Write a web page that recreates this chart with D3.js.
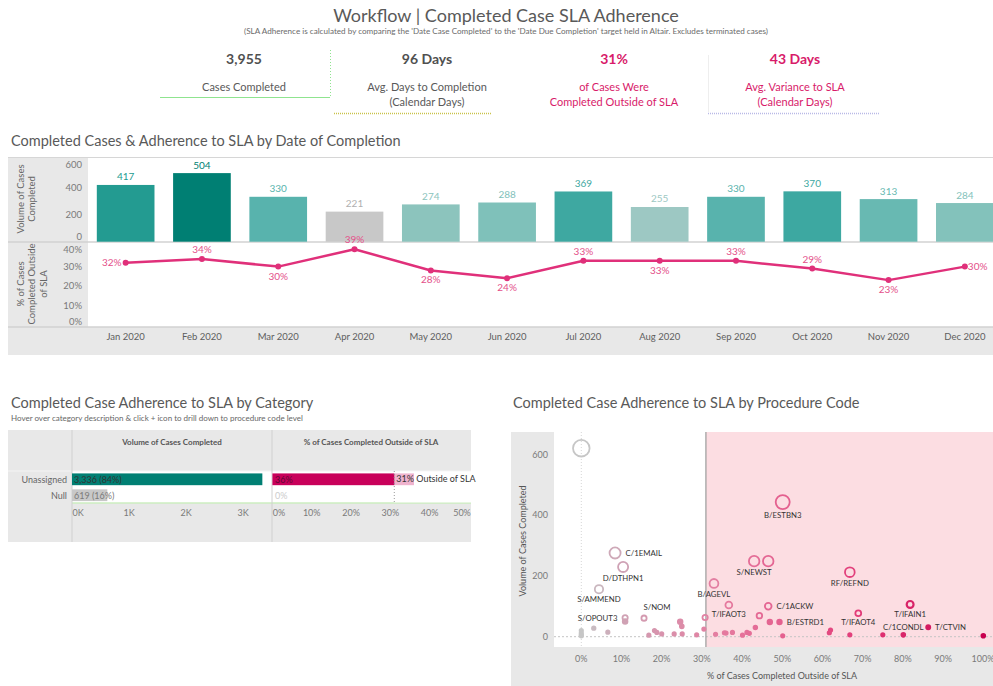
<!DOCTYPE html>
<html><head><meta charset="utf-8">
<script src="https://cdn.jsdelivr.net/npm/d3@7/dist/d3.min.js"></script>
<style>
body{margin:0;background:#fff;}
svg{display:block;font-family:Lato,'Open Sans',sans-serif;}
</style>
</head><body>
<svg id="c" width="993" height="686"></svg>
<script>
// ---------------- DATA ----------------
const titleText = "Workflow | Completed Case SLA Adherence";
const subtitleText = "(SLA Adherence is calculated by comparing the 'Date Case Completed' to the 'Date Due Completion' target held in Altair. Excludes terminated cases)";
const kpiValues = ["3,955", "96 Days", "31%", "43 Days"];
const kpiLabels = [["Cases Completed"], ["Avg. Days to Completion", "(Calendar Days)"], ["of Cases Were", "Completed Outside of SLA"], ["Avg. Variance to SLA", "(Calendar Days)"]];

const months = ["Jan 2020","Feb 2020","Mar 2020","Apr 2020","May 2020","Jun 2020","Jul 2020","Aug 2020","Sep 2020","Oct 2020","Nov 2020","Dec 2020"];
const monthVolumes = [417, 504, 330, 221, 274, 288, 369, 255, 330, 370, 313, 284];
const monthPctOutside = [32, 34, 30, 39, 28, 24, 33, 33, 33, 29, 23, 30];
const volTicks = [0, 200, 400, 600];
const pctTicks = [0, 10, 20, 30, 40];

const categories = ["Unassigned", "Null"];
const catVolumes = [3336, 619];
const catShare = [84, 16];
const catPctOutside = [36, 0];
const overallPctOutside = 31;
const catVolTicks = [0, 1000, 2000, 3000];
const catPctTicks = [0, 10, 20, 30, 40, 50];

const procPct = [0, 0, 0, 0, 0, 3.1, 6.6, 4.4, 8.4, 10.4, 10.9, 10.9, 15.6, 16.8, 18.2, 18.8, 20.0, 23.1, 24.6, 25.0, 25.1, 28.7, 30.5, 30.8, 33.0, 33.4, 35.6, 36.0, 36.7, 37.6, 40.1, 41.2, 41.8, 43.3, 44.3, 43.0, 46.5, 46.5, 46.9, 49.3, 50.1, 50.1, 61.7, 62.0, 66.8, 66.8, 68.9, 75.0, 80.1, 81.8, 86.3, 100];
const procVolumes = [619, 20, 12, 6, 3, 28, 15, 156, 275, 229, 62, 50, 61, 5, 20, 14, 9, 9, 49, 34, 9, 6, 25, 63, 175, 8, 13, 12, 104, 14, 5, 14, 11, 30, 69, 248, 248, 100, 48, 48, 442, 3, 13, 22, 212, 6, 77, 6, 6, 106, 31, 3];
const procCodes = ["", "", "", "", "", "", "", "S/AMMEND", "C/1EMAIL", "D/DTHPN1", "S/OPOUT3", "", "S/NOM", "", "", "", "", "", "", "", "", "", "", "", "B/AGEVL", "", "", "", "T/IFAOT3", "", "", "", "", "", "", "S/NEWST", "", "C/1ACKW", "", "B/ESTRD1", "B/ESTBN3", "", "", "", "RF/REFND", "", "T/IFAOT4", "", "C/1CONDL", "T/IFAIN1", "T/CTVIN", ""];
const scatterYTicks = [0, 200, 400, 600];
const scatterXTicks = [0, 10, 20, 30, 40, 50, 60, 70, 80, 90, 100];

// ---------------- DRAW ----------------
const svg = d3.select("#c");
const GRAY = "#e8e8e8", TXT = "#595959", AX = "#7a7a7a";

// Title + subtitle
svg.append("text").attr("x", 506).attr("y", 22).attr("text-anchor", "middle")
  .attr("font-size", 18).attr("fill", TXT).text(titleText);
svg.append("text").attr("x", 506).attr("y", 34).attr("text-anchor", "middle")
  .attr("font-size", 7.5).attr("fill", "#6b6b6b").attr("textLength", 524).attr("lengthAdjust", "spacingAndGlyphs").text(subtitleText);

// KPI row
const kpiX = [244, 427, 614, 795];
const kpiColors = [TXT, TXT, "#d81b6a", "#d81b6a"];
kpiValues.forEach((v, i) => {
  svg.append("text").attr("x", kpiX[i]).attr("y", 64).attr("text-anchor", "middle")
    .attr("font-size", 14).attr("font-weight", "bold").attr("fill", i < 2 ? "#505050" : kpiColors[i]).text(v);
  kpiLabels[i].forEach((l, j) => {
    svg.append("text").attr("x", kpiX[i]).attr("y", 91 + j * 15).attr("text-anchor", "middle")
      .attr("font-size", 11).attr("fill", kpiColors[i]).text(l);
  });
});
svg.append("line").attr("x1", 160).attr("x2", 330).attr("y1", 97.5).attr("y2", 97.5).attr("stroke", "#8fe48f").attr("stroke-width", 1);
svg.append("line").attr("x1", 330.5).attr("x2", 330.5).attr("y1", 50).attr("y2", 97).attr("stroke", "#8fe48f").attr("stroke-dasharray", "1,2");
svg.append("line").attr("x1", 334).attr("x2", 491).attr("y1", 113.5).attr("y2", 113.5).attr("stroke", "#c9c24a").attr("stroke-dasharray", "1,1").attr("stroke-width", 1.5);
svg.append("line").attr("x1", 708).attr("x2", 880).attr("y1", 113.5).attr("y2", 113.5).attr("stroke", "#b9b9e6").attr("stroke-dasharray", "1,1").attr("stroke-width", 1.5);
svg.append("line").attr("x1", 708.5).attr("x2", 708.5).attr("y1", 55).attr("y2", 112).attr("stroke", "#eeeeee");

// ---------- Monthly chart ----------
svg.append("text").attr("x", 11).attr("y", 146).attr("font-size", 14.5).attr("fill", TXT)
  .text("Completed Cases & Adherence to SLA by Date of Completion");

svg.append("rect").attr("x", 8).attr("y", 157).attr("width", 985).attr("height", 198).attr("fill", GRAY);
svg.append("rect").attr("x", 88).attr("y", 158).attr("width", 905).attr("height", 169).attr("fill", "#fff");
svg.append("line").attr("x1", 8).attr("x2", 993).attr("y1", 157.5).attr("y2", 157.5).attr("stroke", "#d6d6d6");
svg.append("line").attr("x1", 8).attr("x2", 993).attr("y1", 242).attr("y2", 242).attr("stroke", "#d2d2d2").attr("stroke-width", 1.5);
svg.append("line").attr("x1", 8).attr("x2", 993).attr("y1", 327).attr("y2", 327).attr("stroke", "#d2d2d2").attr("stroke-width", 1.5);

const xM = d3.scaleBand().domain(months).range([87.5, 1003]).paddingInner(0.244).paddingOuter(0.122);
const yV = d3.scaleLinear().domain([0, 615]).range([241.7, 158]);
const yP = d3.scaleLinear().domain([0, 42.5]).range([324.5, 242.5]);
const barColor = d3.scaleLinear().domain([250, 290, 330, 370, 417, 504])
  .range(["#a2c9c4", "#7dc1b9", "#58b3ad", "#3da8a1", "#239b91", "#007f73"]);
const colorOfBar = v => v < 240 ? "#c8c8c8" : barColor(v);

const gM = svg.append("g");
gM.selectAll(".bar").data(months).join("rect")
  .attr("x", d => xM(d)).attr("width", xM.bandwidth())
  .attr("y", (d, i) => yV(monthVolumes[i])).attr("height", (d, i) => yV(0) - yV(monthVolumes[i]))
  .attr("fill", (d, i) => colorOfBar(monthVolumes[i]));
gM.selectAll(".blab").data(months).join("text")
  .attr("x", d => xM(d) + xM.bandwidth() / 2).attr("y", (d, i) => yV(monthVolumes[i]) - 4.5)
  .attr("text-anchor", "middle").attr("font-size", 10)
  .attr("fill", (d, i) => monthVolumes[i] < 240 ? "#b0b0b0" : colorOfBar(monthVolumes[i]))
  .text((d, i) => monthVolumes[i]);

volTicks.forEach(t => {
  svg.append("text").attr("x", 82).attr("y", Math.min(236, Math.max(164, yV(t))) + 3.5)
    .attr("text-anchor", "end").attr("font-size", 9.5).attr("fill", AX).text(t);
});
pctTicks.forEach(t => {
  svg.append("text").attr("x", 82).attr("y", Math.min(321, Math.max(249, yP(t))) + 3.5)
    .attr("text-anchor", "end").attr("font-size", 9.5).attr("fill", AX).text(t + "%");
});
function vTitle(lines, cy, x0) {
  lines.forEach((l, i) => {
    svg.append("text").attr("transform", `translate(${x0 + i * 11.7},${cy}) rotate(-90)`)
      .attr("text-anchor", "middle").attr("dominant-baseline", "central")
      .attr("font-size", 9.5).attr("fill", "#666").text(l);
  });
}
vTitle(["Volume of Cases", "Completed"], 199, 20);
vTitle(["% of Cases", "Completed Outside", "of SLA"], 284, 20);

const cx = d => xM(d) + xM.bandwidth() / 2;
const line = d3.line().x(d => cx(d)).y((d, i) => yP(monthPctOutside[i]));
gM.append("path").datum(months).attr("d", line).attr("fill", "none")
  .attr("stroke", "#e0307a").attr("stroke-width", 2.5).attr("stroke-linejoin", "round");
gM.selectAll(".dot").data(months).join("circle")
  .attr("cx", cx).attr("cy", (d, i) => yP(monthPctOutside[i])).attr("r", 3).attr("fill", "#e0307a");
const placement = ["left", "above", "below", "above", "below", "below", "above", "below", "above", "above", "below", "right"];
gM.selectAll(".plab").data(months).join("text")
  .attr("x", (d, i) => placement[i] === "left" ? cx(d) - 4 : placement[i] === "right" ? cx(d) + 3 : cx(d))
  .attr("y", (d, i) => {
    const y = yP(monthPctOutside[i]);
    return (placement[i] === "above" ? y - 9.5 : placement[i] === "below" ? y + 9.5 : y) + 3.5;
  })
  .attr("text-anchor", (d, i) => placement[i] === "left" ? "end" : placement[i] === "right" ? "start" : "middle")
  .attr("font-size", 10).attr("fill", "#e4508a")
  .text((d, i) => monthPctOutside[i] + "%");

months.forEach(m => {
  svg.append("text").attr("x", cx(m)).attr("y", 339.5).attr("text-anchor", "middle")
    .attr("font-size", 9.5).attr("fill", "#5e5e5e").text(m);
});

// ---------- Category chart ----------
svg.append("text").attr("x", 11).attr("y", 408).attr("font-size", 14.5).attr("fill", TXT)
  .text("Completed Case Adherence to SLA by Category");
svg.append("text").attr("x", 11).attr("y", 421).attr("font-size", 8).attr("fill", "#666")
  .text("Hover over category description & click + icon to drill down to procedure code level");

svg.append("rect").attr("x", 8).attr("y", 430).attr("width", 463).attr("height", 112).attr("fill", GRAY);
svg.append("rect").attr("x", 72).attr("y", 471).attr("width", 399).attr("height", 32).attr("fill", "#fff");
svg.append("line").attr("x1", 8).attr("x2", 471).attr("y1", 471).attr("y2", 471).attr("stroke", "#f4f4f4");
svg.append("line").attr("x1", 72).attr("x2", 471).attr("y1", 503).attr("y2", 503).attr("stroke", "#cdeec0").attr("stroke-width", 1.5);
[72, 272].forEach(x => svg.append("line").attr("x1", x).attr("x2", x).attr("y1", 430).attr("y2", 542).attr("stroke", "#d0d0d0"));

svg.append("text").attr("x", 172).attr("y", 445).attr("text-anchor", "middle").attr("font-size", 8).attr("font-weight", "bold").attr("fill", "#555").text("Volume of Cases Completed");
svg.append("text").attr("x", 371).attr("y", 445).attr("text-anchor", "middle").attr("font-size", 8).attr("font-weight", "bold").attr("fill", "#555").text("% of Cases Completed Outside of SLA");

const yC = d3.scaleBand().domain(categories).range([471.5, 503]).paddingInner(0.26).paddingOuter(0.12);
const xCV = d3.scaleLinear().domain([0, 3500]).range([72, 271.7]);
const xCP = d3.scaleLinear().domain([0, 50]).range([272.4, 469]);

categories.forEach((c, i) => {
  svg.append("text").attr("x", 67).attr("y", yC(c) + yC.bandwidth() / 2 + 3.5).attr("text-anchor", "end")
    .attr("font-size", 9).attr("fill", "#666").text(c);
  svg.append("rect").attr("x", xCV(0)).attr("y", yC(c)).attr("width", xCV(catVolumes[i]) - xCV(0)).attr("height", yC.bandwidth())
    .attr("fill", i === 0 ? "#007f73" : "#c8c8c8");
  svg.append("text").attr("x", 74).attr("y", yC(c) + yC.bandwidth() / 2 + 3.5)
    .attr("font-size", 9).attr("fill", i === 0 ? "#333333" : "#7a7a7a")
    .text(d3.format(",")(catVolumes[i]) + " (" + catShare[i] + "%)");
  svg.append("rect").attr("x", xCP(0)).attr("y", yC(c)).attr("width", xCP(catPctOutside[i]) - xCP(0)).attr("height", yC.bandwidth())
    .attr("fill", "#c8005a");
});
svg.append("rect").attr("x", xCP(overallPctOutside)).attr("y", 471.5).attr("width", 471 - xCP(overallPctOutside)).attr("height", 31)
  .attr("fill", "#fff").attr("opacity", 0.7);
svg.append("line").attr("x1", xCP(overallPctOutside)).attr("x2", xCP(overallPctOutside)).attr("y1", 471).attr("y2", 503)
  .attr("stroke", "#999").attr("stroke-dasharray", "1,2");
categories.forEach((c, i) => {
  svg.append("text").attr("x", 275).attr("y", yC(c) + yC.bandwidth() / 2 + 3.5)
    .attr("font-size", 9).attr("fill", i === 0 ? "#5e0a33" : "#cccccc").text(catPctOutside[i] + "%");
});
svg.append("text").attr("x", xCP(overallPctOutside) + 2).attr("y", yC(categories[0]) + yC.bandwidth() / 2 + 3)
  .attr("font-size", 9).attr("fill", "#333").text(overallPctOutside + "% Outside of SLA");

catVolTicks.forEach(t => {
  svg.append("text").attr("x", Math.max(78, xCV(t))).attr("y", 516).attr("text-anchor", "middle")
    .attr("font-size", 9).attr("fill", AX).text(t / 1000 + "K");
});
catPctTicks.forEach(t => {
  svg.append("text").attr("x", Math.min(462, Math.max(279, xCP(t)))).attr("y", 516).attr("text-anchor", "middle")
    .attr("font-size", 9).attr("fill", AX).text(t + "%");
});

// ---------- Scatter ----------
svg.append("text").attr("x", 513).attr("y", 408).attr("font-size", 14.5).attr("fill", TXT)
  .text("Completed Case Adherence to SLA by Procedure Code");

const sx = d3.scaleLinear().domain([0, 100]).range([581.3, 983.3]);
const sy = d3.scaleLinear().domain([0, 600]).range([636.7, 454]);
const sr = d3.scaleSqrt().domain([0, 620]).range([0, 8.3]);
const scol = d3.scaleLinear().domain([0, 10, 35, 70, 100])
  .range(["#c6c6c6", "#cfa3b5", "#e57ca0", "#e23a78", "#c8004f"]);

svg.append("rect").attr("x", 511).attr("y", 432).attr("width", 482).attr("height", 254).attr("fill", GRAY);
svg.append("rect").attr("x", 554).attr("y", 432).attr("width", 439).attr("height", 215).attr("fill", "#fff");
svg.append("rect").attr("x", sx(overallPctOutside)).attr("y", 432).attr("width", 993 - sx(overallPctOutside)).attr("height", 215).attr("fill", "#fcdde2");
svg.append("line").attr("x1", sx(0)).attr("x2", sx(0)).attr("y1", 432).attr("y2", 647).attr("stroke", "#d6d6d6").attr("stroke-dasharray", "1,2");
svg.append("line").attr("x1", 554).attr("x2", 993).attr("y1", sy(0)).attr("y2", sy(0)).attr("stroke", "#c4c4c4").attr("stroke-dasharray", "2,2");
svg.append("line").attr("x1", sx(overallPctOutside)).attr("x2", sx(overallPctOutside)).attr("y1", 432).attr("y2", 647).attr("stroke", "#9a9a9a").attr("stroke-width", 1.2);

scatterYTicks.forEach(t => {
  svg.append("text").attr("x", 548).attr("y", sy(t) + 3.5).attr("text-anchor", "end")
    .attr("font-size", 9).attr("fill", AX).text(t);
});
scatterXTicks.forEach(t => {
  svg.append("text").attr("x", Math.min(983, sx(t))).attr("y", 662).attr("text-anchor", "middle")
    .attr("font-size", 9).attr("fill", AX).text(t + "%");
});
svg.append("text").attr("transform", "translate(522,541) rotate(-90)").attr("text-anchor", "middle")
  .attr("dominant-baseline", "central").attr("font-size", 9).attr("fill", "#555").text("Volume of Cases Completed");
svg.append("text").attr("x", 782).attr("y", 679).attr("text-anchor", "middle")
  .attr("font-size", 9).attr("fill", "#555").text("% of Cases Completed Outside of SLA");

const idx = d3.range(procPct.length).sort((a, b) => procVolumes[b] - procVolumes[a]);
svg.append("g").selectAll("circle").data(idx).join("circle")
  .attr("cx", i => sx(procPct[i])).attr("cy", i => sy(procVolumes[i]))
  .attr("r", i => Math.max(1.7, sr(procVolumes[i])))
  .attr("fill", i => sr(procVolumes[i]) < 2.4 ? scol(procPct[i]) : "none")
  .attr("stroke", i => scol(procPct[i]))
  .attr("stroke-width", i => procPct[i] > 75 ? 2.2 : 1.8);

const labelPlace = {
  "C/1EMAIL": "right", "D/DTHPN1": "below", "S/AMMEND": "below", "S/OPOUT3": "left", "S/NOM": "aboveRight",
  "B/AGEVL": "below", "T/IFAOT3": "below", "S/NEWST": "below", "B/ESTBN3": "below", "RF/REFND": "below",
  "C/1ACKW": "right", "B/ESTRD1": "right", "T/IFAOT4": "below", "T/IFAIN1": "below", "C/1CONDL": "above", "T/CTVIN": "right"
};
procCodes.forEach((code, i) => {
  if (!code) return;
  const px = sx(procPct[i]), py = sy(procVolumes[i]), r = Math.max(1.7, sr(procVolumes[i]));
  const p = labelPlace[code];
  let x = px, y = py, a = "middle";
  if (p === "right") { x = px + r + 5; a = "start"; }
  else if (p === "left") { x = px - r - 5; a = "end"; }
  else if (p === "below") { y = py + r + 6; }
  else if (p === "above") { y = py - r - 6; }
  else if (p === "aboveRight") { x = px + 13; y = py - 11; }
  svg.append("text").attr("x", x).attr("y", y + 3).attr("text-anchor", a)
    .attr("font-size", 7.8).attr("fill", "#333").text(code);
});
</script>
</body></html>
